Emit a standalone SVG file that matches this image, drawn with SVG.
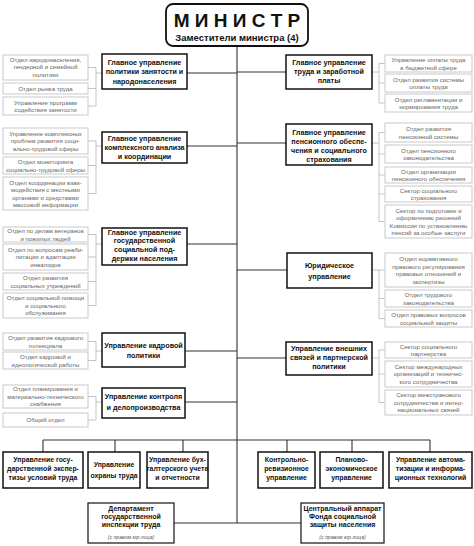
<svg xmlns="http://www.w3.org/2000/svg" width="474" height="546" viewBox="0 0 474 546">
<style>
.mb{fill:#fff;stroke:#111;stroke-width:1.5}
.sb{fill:#fff;stroke:#c4c4c4;stroke-width:0.9}
.mt{font-family:"Liberation Sans",Arial,sans-serif;font-weight:bold;font-size:7.2px;fill:#111;text-anchor:middle}
.bt{font-size:6.9px}
.st{font-family:"Liberation Sans",Arial,sans-serif;font-size:6.1px;fill:#666;text-anchor:middle}
.it{font-family:"Liberation Sans",Arial,sans-serif;font-style:italic;font-size:5.2px;fill:#555;text-anchor:middle}
.ln{stroke:#333;stroke-width:1.1;fill:none}
.br{stroke:#bdbdbd;stroke-width:0.9;fill:none}
</style>
<rect width="474" height="546" fill="#fff"/>
<g id="connectors">
<path class="ln" d="M237 46V523M187 73H237M187 146H237M187 244H237M185 351H237M185 402H237M237 72H286M237 143H286M237 270H287M237 358H286"/>
<path class="ln" d="M43 440H430M43 440V452M115 440V452M183 440V452M287 440V452M352 440V452M430 440V452M174 523H301"/>
<path class="br" d="M88 67.5H96M88 88.5H96M88 106H96M96 67.5V106M96 73H102"/>
<path class="br" d="M88 141H96M88 165.5H96M88 193.5H96M96 141V193.5M96 146H102"/>
<path class="br" d="M88 234.5H96M88 257H96M88 281.5H96M88 305.5H96M96 234.5V305.5M96 244H102"/>
<path class="br" d="M88 341.5H96M88 360.5H96M96 341.5V360.5M96 351H102"/>
<path class="br" d="M88 396.5H96M88 420H96M96 396.5V420M96 402H102"/>
<path class="br" d="M385 63.5H379M385 83H379M385 103H379M379 63.5V103M379 72H372"/>
<path class="br" d="M385 132.5H379M385 154H379M385 175H379M385 194H379M385 221.5H379M379 132.5V221.5M379 143H372"/>
<path class="br" d="M385 270H379M385 298.5H379M385 318.5H379M379 270V318.5M379 270H372"/>
<path class="br" d="M385 350H379M385 374H379M385 402.5H379M379 350V402.5M379 358H372"/>
</g>
<g id="minister">
<rect x="166" y="4" width="142" height="42" rx="7" fill="#fff" stroke="#111" stroke-width="1.8"/>
<text x="237" y="27" font-family="Liberation Sans,Arial,sans-serif" font-weight="bold" font-size="19" text-anchor="middle" fill="#111">М И Н И С Т Р</text>
<text x="237" y="41" font-family="Liberation Sans,Arial,sans-serif" font-weight="bold" font-size="9.5" text-anchor="middle" fill="#111">Заместители министра (4)</text>
</g>
<g id="L1">
<rect class="mb" x="102" y="54" width="85" height="35"/>
<text class="mt"><tspan x="144.5" y="65">Главное управление</tspan><tspan x="144.5" y="74.3">политики занятости и</tspan><tspan x="144.5" y="83.6">народонаселения</tspan></text>
</g>
<g id="L1s">
<rect class="sb" x="3" y="55" width="85" height="25"/>
<text class="st"><tspan x="45.5" y="61.7">Отдел народонаселения,</tspan><tspan x="45.5" y="69.2">гендерной и семейной</tspan><tspan x="45.5" y="76.7">политики</tspan></text>
<rect class="sb" x="3" y="83" width="85" height="11"/>
<text class="st" x="45.5" y="90.7">Отдел рынка труда</text>
<rect class="sb" x="3" y="97" width="85" height="18"/>
<text class="st"><tspan x="45.5" y="104.5">Управление программ</tspan><tspan x="45.5" y="112">содействия занятости</tspan></text>
</g>
<g id="L2">
<rect class="mb" x="102" y="132" width="85" height="31"/>
<text class="mt"><tspan x="144.5" y="141.1">Главное управление</tspan><tspan x="144.5" y="150.1">комплексного анализа</tspan><tspan x="144.5" y="159.1">и координации</tspan></text>
</g>
<g id="L2s">
<rect class="sb" x="3" y="128" width="85" height="26"/>
<text class="st"><tspan x="45.5" y="135.7">Управление комплексных</tspan><tspan x="45.5" y="143.2">проблем развития соци-</tspan><tspan x="45.5" y="150.7">ально-трудовой сферы</tspan></text>
<rect class="sb" x="3" y="157" width="85" height="17"/>
<text class="st"><tspan x="45.5" y="164">Отдел мониторинга</tspan><tspan x="45.5" y="171.5">социально-трудовой сферы</tspan></text>
<rect class="sb" x="3" y="177" width="85" height="33"/>
<text class="st"><tspan x="45.5" y="184.5">Отдел координации взаи-</tspan><tspan x="45.5" y="192">модействия с местными</tspan><tspan x="45.5" y="199.5">органами и средствами</tspan><tspan x="45.5" y="207">массовой информации</tspan></text>
</g>
<g id="L3">
<rect class="mb" x="102" y="228" width="85" height="37"/>
<text class="mt"><tspan x="144.5" y="234.5">Главное управление</tspan><tspan x="144.5" y="243.3">государственной</tspan><tspan x="144.5" y="252.1">социальной под-</tspan><tspan x="144.5" y="260.9">держки населения</tspan></text>
</g>
<g id="L3s">
<rect class="sb" x="3" y="227" width="85" height="15"/>
<text class="st"><tspan x="45.5" y="233">Отдел по делам ветеранов</tspan><tspan x="45.5" y="240.5">и пожилых людей</tspan></text>
<rect class="sb" x="3" y="244" width="85" height="26"/>
<text class="st"><tspan x="45.5" y="251.7">Отдел по вопросам реаби-</tspan><tspan x="45.5" y="259.2">литации и адаптации</tspan><tspan x="45.5" y="266.7">инвалидов</tspan></text>
<rect class="sb" x="3" y="273" width="85" height="17"/>
<text class="st"><tspan x="45.5" y="280">Отдел развития</tspan><tspan x="45.5" y="287.5">социальных учреждений</tspan></text>
<rect class="sb" x="3" y="293" width="85" height="25"/>
<text class="st"><tspan x="45.5" y="300.2">Отдел социальной помощи</tspan><tspan x="45.5" y="307.7">и социального</tspan><tspan x="45.5" y="315.2">обслуживания</tspan></text>
</g>
<g id="L4">
<rect class="mb" x="102" y="333" width="83" height="34"/>
<text class="mt"><tspan x="143.5" y="347.6">Управление кадровой</tspan><tspan x="143.5" y="357.8">политики</tspan></text>
</g>
<g id="L4s">
<rect class="sb" x="3" y="333" width="85" height="17"/>
<text class="st"><tspan x="45.5" y="340">Отдел развития кадрового</tspan><tspan x="45.5" y="347.5">потенциала</tspan></text>
<rect class="sb" x="3" y="352" width="85" height="17"/>
<text class="st"><tspan x="45.5" y="359">Отдел кадровой и</tspan><tspan x="45.5" y="366.5">идеологической работы</tspan></text>
</g>
<g id="L5">
<rect class="mb" x="102" y="388" width="83" height="30"/>
<text class="mt"><tspan x="143.5" y="399">Управление контроля</tspan><tspan x="143.5" y="410">и делопроизводства</tspan></text>
</g>
<g id="L5s">
<rect class="sb" x="3" y="385" width="85" height="23"/>
<text class="st"><tspan x="45.5" y="391.2">Отдел планирования и</tspan><tspan x="45.5" y="398.7">материально-технического</tspan><tspan x="45.5" y="406.2">снабжения</tspan></text>
<rect class="sb" x="3" y="413" width="85" height="14"/>
<text class="st" x="45.5" y="422.2">Общий отдел</text>
</g>
<g id="R1">
<rect class="mb" x="286" y="55" width="86" height="34"/>
<text class="mt"><tspan x="329" y="65">Главное управление</tspan><tspan x="329" y="74.3">труда и заработной</tspan><tspan x="329" y="83">платы</tspan></text>
</g>
<g id="R1s">
<rect class="sb" x="385" y="55" width="87" height="17"/>
<text class="st"><tspan x="428.5" y="62">Управление оплаты труда</tspan><tspan x="428.5" y="69.5">в бюджетной сфере</tspan></text>
<rect class="sb" x="385" y="74" width="87" height="18"/>
<text class="st"><tspan x="428.5" y="81.5">Отдел развития системы</tspan><tspan x="428.5" y="89">оплаты труда</tspan></text>
<rect class="sb" x="385" y="94" width="87" height="18"/>
<text class="st"><tspan x="428.5" y="101.5">Отдел регламентации и</tspan><tspan x="428.5" y="109">нормирования труда</tspan></text>
</g>
<g id="R2">
<rect class="mb" x="286" y="124" width="86" height="41"/>
<text class="mt"><tspan x="329" y="135.3">Главное управление</tspan><tspan x="329" y="144.3">пенсионного обеспе-</tspan><tspan x="329" y="153.3">чения и социального</tspan><tspan x="329" y="162">страхования</tspan></text>
</g>
<g id="R2s">
<rect class="sb" x="385" y="123" width="87" height="19"/>
<text class="st"><tspan x="428.5" y="131">Отдел развития</tspan><tspan x="428.5" y="138.5">пенсионной системы</tspan></text>
<rect class="sb" x="385" y="145" width="87" height="18"/>
<text class="st"><tspan x="428.5" y="152.5">Отдел пенсионного</tspan><tspan x="428.5" y="160">законодательства</tspan></text>
<rect class="sb" x="385" y="167" width="87" height="16"/>
<text class="st"><tspan x="428.5" y="173.5">Отдел организации</tspan><tspan x="428.5" y="181">пенсионного обеспечения</tspan></text>
<rect class="sb" x="385" y="186" width="87" height="16"/>
<text class="st"><tspan x="428.5" y="192.5">Сектор социального</tspan><tspan x="428.5" y="200">страхования</tspan></text>
<rect class="sb" x="385" y="205" width="87" height="33"/>
<text class="st"><tspan x="428.5" y="212.5">Сектор по подготовке и</tspan><tspan x="428.5" y="220">оформлению решений</tspan><tspan x="428.5" y="227.5">Комиссии по установлению</tspan><tspan x="428.5" y="235">пенсий за особые заслуги</tspan></text>
</g>
<g id="R3">
<rect class="mb" x="287" y="253" width="85" height="35"/>
<text class="mt"><tspan x="329.5" y="268.3">Юридическое</tspan><tspan x="329.5" y="279.3">управление</tspan></text>
</g>
<g id="R3s">
<rect class="sb" x="385" y="253" width="87" height="34"/>
<text class="st"><tspan x="428.5" y="261">Отдел нормативного</tspan><tspan x="428.5" y="268.5">правового регулирования</tspan><tspan x="428.5" y="276">правовых отношений и</tspan><tspan x="428.5" y="283.5">экспертизы</tspan></text>
<rect class="sb" x="385" y="290" width="87" height="17"/>
<text class="st"><tspan x="428.5" y="297">Отдел трудового</tspan><tspan x="428.5" y="304.5">законодательства</tspan></text>
<rect class="sb" x="385" y="310" width="87" height="17"/>
<text class="st"><tspan x="428.5" y="317">Отдел правовых вопросов</tspan><tspan x="428.5" y="324.5">социальной защиты</tspan></text>
</g>
<g id="R4">
<rect class="mb" x="286" y="342" width="86" height="33"/>
<text class="mt"><tspan x="329" y="351">Управление внешних</tspan><tspan x="329" y="360">связей и партнерской</tspan><tspan x="329" y="368.8">политики</tspan></text>
</g>
<g id="R4s">
<rect class="sb" x="385" y="342" width="87" height="16"/>
<text class="st"><tspan x="428.5" y="348.5">Сектор социального</tspan><tspan x="428.5" y="356">партнерства</tspan></text>
<rect class="sb" x="385" y="361" width="87" height="26"/>
<text class="st"><tspan x="428.5" y="368.7">Сектор международных</tspan><tspan x="428.5" y="376.2">организаций и техничес-</tspan><tspan x="428.5" y="383.7">кого сотрудничества</tspan></text>
<rect class="sb" x="385" y="390" width="87" height="25"/>
<text class="st"><tspan x="428.5" y="397.2">Сектор межстранового</tspan><tspan x="428.5" y="404.7">сотрудничества и интер-</tspan><tspan x="428.5" y="412.2">национальных связей</tspan></text>
</g>
<g id="B1">
<rect class="mb" x="3" y="452" width="80" height="36"/>
<text class="mt bt"><tspan x="43" y="462">Управление госу-</tspan><tspan x="43" y="471">дарственной экспер-</tspan><tspan x="43" y="480">тизы условий труда</tspan></text>
</g>
<g id="B2">
<rect class="mb" x="88" y="452" width="52" height="36"/>
<text class="mt bt"><tspan x="114" y="467">Управление</tspan><tspan x="114" y="477.6">охраны труда</tspan></text>
</g>
<g id="B3">
<rect class="mb" x="147" y="452" width="61" height="36"/>
<text class="mt bt"><tspan x="177.5" y="462">Управление бух-</tspan><tspan x="177.5" y="471">галтерского учета</tspan><tspan x="177.5" y="480">и отчетности</tspan></text>
</g>
<g id="B4">
<rect class="mb" x="258" y="452" width="57" height="36"/>
<text class="mt bt"><tspan x="286.5" y="462">Контрольно-</tspan><tspan x="286.5" y="471">ревизионное</tspan><tspan x="286.5" y="480">управление</tspan></text>
</g>
<g id="B5">
<rect class="mb" x="320" y="452" width="63" height="36"/>
<text class="mt bt"><tspan x="351.5" y="462">Планово-</tspan><tspan x="351.5" y="471">экономическое</tspan><tspan x="351.5" y="480">управление</tspan></text>
</g>
<g id="B6">
<rect class="mb" x="389" y="452" width="83" height="36"/>
<text class="mt bt"><tspan x="430.5" y="462">Управление автома-</tspan><tspan x="430.5" y="471">тизации и информа-</tspan><tspan x="430.5" y="480">ционных технологий</tspan></text>
</g>
<g id="D1">
<rect class="mb" x="88" y="503" width="86" height="40" style="stroke-width:1.2"/>
<text class="mt" style="font-size:7px"><tspan x="131" y="511.3">Департамент</tspan><tspan x="131" y="519">государственной</tspan><tspan x="131" y="526.7">инспекции труда</tspan></text>
<text class="it" x="131" y="538.5">(с правом юр.лица)</text>
</g>
<g id="D2">
<rect class="mb" x="301" y="503" width="83" height="40" style="stroke-width:1.2"/>
<text class="mt" style="font-size:7px"><tspan x="342.5" y="511.3">Центральный аппарат</tspan><tspan x="342.5" y="519">Фонда социальной</tspan><tspan x="342.5" y="526.7">защиты населения</tspan></text>
<text class="it" x="342.5" y="538.5">(с правом юр.лица)</text>
</g>
</svg>
